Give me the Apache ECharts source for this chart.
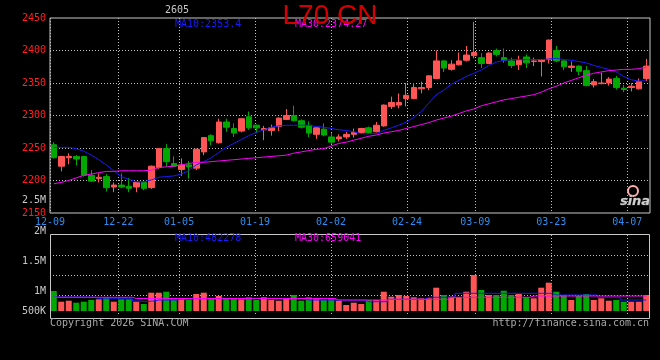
<!DOCTYPE html>
<html><head><meta charset="utf-8">
<script src="https://cdn.jsdelivr.net/npm/echarts@6/dist/echarts.min.js"></script>
<style>html,body{margin:0;padding:0;background:#000}#c{width:660px;height:360px}</style>
</head><body><div id="c"></div>
<script>
// ---------------- DATA ----------------
const contractTitle = 'L70 CN';
const contractCode = '2605';
const dates = ['12-09','12-10','12-11','12-12','12-15','12-16','12-17','12-18','12-19','12-22',
 '12-23','12-24','12-25','12-26','12-29','12-30','12-31','01-05','01-06','01-07',
 '01-08','01-09','01-12','01-13','01-14','01-15','01-16','01-19','01-20','01-21',
 '01-22','01-23','01-26','01-27','01-28','01-29','01-30','02-02','02-03','02-04',
 '02-05','02-06','02-09','02-10','02-11','02-12','02-13','02-24','02-25','02-26',
 '02-27','03-02','03-03','03-04','03-05','03-06','03-09','03-10','03-11','03-12',
 '03-13','03-16','03-17','03-18','03-19','03-20','03-23','03-24','03-25','03-26',
 '03-27','03-30','03-31','04-01','04-02','04-03','04-07','04-08','04-09','04-10'];
const xTickDates = ['12-09','12-22','01-05','01-19','02-02','02-24','03-09','03-23','04-07'];
const opens  = [2255,2222,2235,2237,2237,2208,2203,2206,2190,2193,2191,2190,2197,2189,2220,2249,2226,2217,2224,2219,
 2244,2269,2258,2290,2280,2276,2298,2285,2278,2277,2283,2294,2300,2292,2285,2271,2279,2267,2264,2267,
 2271,2274,2281,2275,2284,2314,2316,2326,2326,2341,2343,2357,2384,2371,2378,2385,2392,2389,2380,2400,
 2389,2384,2378,2390,2383,2383,2386,2400,2384,2374,2376,2369,2347,2349,2350,2357,2342,2343,2341,2357];
const closes = [2235,2237,2237,2233,2208,2199,2205,2189,2193,2190,2188,2197,2188,2222,2249,2229,2222,2224,2221,2248,
 2266,2261,2290,2282,2273,2295,2281,2281,2280,2281,2296,2300,2292,2282,2273,2281,2270,2259,2267,2271,
 2274,2280,2274,2285,2316,2320,2320,2331,2343,2343,2361,2384,2373,2379,2384,2393,2397,2380,2396,2394,
 2385,2377,2385,2381,2384,2386,2416,2384,2375,2376,2368,2346,2352,2350,2356,2343,2340,2345,2352,2376];
const highs  = [2259,2238,2242,2239,2238,2216,2211,2210,2197,2211,2204,2198,2198,2223,2250,2256,2237,2234,2230,2249,
 2267,2271,2295,2295,2288,2296,2306,2286,2284,2286,2297,2310,2315,2294,2291,2282,2288,2273,2271,2275,
 2280,2281,2283,2290,2317,2329,2334,2350,2350,2352,2362,2400,2385,2385,2397,2407,2444,2396,2397,2403,
 2403,2389,2392,2394,2389,2387,2417,2407,2385,2383,2377,2376,2356,2366,2359,2361,2347,2350,2357,2387];
const lows   = [2234,2214,2225,2223,2206,2198,2197,2183,2182,2188,2182,2182,2185,2187,2218,2221,2221,2207,2203,2216,
 2239,2254,2257,2275,2267,2274,2278,2273,2262,2269,2276,2293,2291,2280,2267,2264,2268,2256,2260,2264,
 2266,2272,2272,2274,2283,2310,2311,2314,2325,2334,2339,2356,2367,2369,2377,2383,2388,2373,2379,2391,
 2381,2373,2370,2373,2376,2360,2380,2382,2370,2367,2362,2345,2343,2348,2346,2340,2336,2337,2340,2353];
const ma10 = [2251,2251,2251,2249,2245,2239,2232,2224,2215,2206,2202,2198,2198,2201,2205,2206,2207,2210,2215,2224,
 2229,2235,2243,2251,2257,2263,2269,2274,2278,2282,2284,2285,2285,2285,2285,2283,2282,2280,2278,2277,
 2275,2272,2272,2272,2277,2281,2285,2290,2297,2306,2319,2332,2339,2348,2354,2360,2365,2370,2377,2382,
 2385,2386,2386,2386,2386,2386,2387,2388,2386,2385,2383,2381,2377,2374,2371,2367,2360,2355,2353,2353.4];
const ma30 = [2195,2197,2200,2204,2208,2210,2212,2214,2214,2215,2215,2215,2215,2216,2220,2221,2222,2224,2226,2228,
 2228,2229,2230,2231,2232,2233,2234,2235,2236,2237,2238,2239,2242,2244,2246,2248,2249,2253,2257,2259,
 2262,2265,2268,2270,2273,2275,2277,2280,2283,2286,2289,2293,2296,2299,2303,2307,2310,2315,2318,2321,
 2324,2326,2328,2330,2332,2336,2341,2345,2350,2354,2358,2362,2365,2367,2369,2370,2371,2371,2372,2374.27];
const volumes = [880000,409000,453000,365000,409000,484000,515000,603000,409000,515000,
 515000,409000,308000,805000,805000,849000,515000,515000,515000,748000,
 805000,559000,660000,559000,559000,515000,603000,484000,603000,484000,
 453000,559000,704000,453000,603000,559000,484000,559000,453000,264000,
 365000,308000,484000,484000,849000,629000,704000,660000,603000,559000,
 559000,1025000,704000,629000,603000,849000,1584000,924000,704000,704000,
 893000,704000,748000,603000,559000,1025000,1245000,849000,704000,484000,
 660000,748000,484000,559000,453000,484000,409000,409000,409000,704000];
const volMa10 = [616000,616000,616000,616000,616000,610000,541000,541000,541000,541000,
 541000,440000,409000,440000,484000,484000,484000,541000,541000,541000,
 541000,541000,541000,541000,541000,541000,541000,541000,541000,541000,
 541000,541000,541000,541000,484000,484000,484000,484000,484000,484000,
 484000,484000,409000,409000,409000,515000,515000,515000,515000,515000,
 603000,603000,603000,603000,779000,779000,779000,779000,779000,779000,
 779000,779000,779000,779000,779000,779000,779000,704000,704000,704000,
 704000,704000,704000,603000,603000,603000,484000,484000,484000,482278];
const volMa30 = [603000,603000,603000,603000,603000,603000,603000,603000,603000,603000,
 603000,550000,550000,550000,550000,550000,550000,550000,550000,550000,
 550000,550000,550000,550000,550000,550000,550000,550000,550000,550000,
 550000,550000,550000,550000,550000,550000,550000,550000,484000,484000,
 484000,484000,484000,484000,484000,515000,515000,515000,515000,515000,
 515000,515000,515000,603000,603000,603000,603000,603000,603000,603000,
 603000,603000,603000,603000,659000,659000,659000,659000,659000,659000,
 659000,659000,659000,659000,659000,659000,659000,659000,659000,659041];
const priceMin = 2150, priceMax = 2450, priceStep = 50;
const volTickLabels = ['2M','1.5M','1M','500K'];
const strayVolLabel = '2.5M';
const ma10Last = '2353.4', ma30Last = '2374.27';
const volMa10Last = '482278', volMa30Last = '659041';
const copyrightText = 'Copyright 2026 SINA.COM';
const urlText = 'http://finance.sina.com.cn';

// ---------------- STYLE / LAYOUT ----------------
const UP = '#ff5555', DOWN = '#00a800';
const MONO = 'DejaVu Sans Mono';
const gridLine = {color:'#c0c0c0', type:[1,2], width:1};
const tickIdx = new Set(xTickDates.map(d => dates.indexOf(d)));
const tickFn = (i) => tickIdx.has(i);
const volTickY = [231, 261, 291, 311];
const VOL_PX = 44000; // volume units per pixel in the lower panel

const candleData = opens.map((o, i) => [o, closes[i], lows[i], highs[i]]);
const volData = volumes.map((v, i) => ({value: v, itemStyle: {color: closes[i] >= opens[i] ? UP : DOWN}}));

function txt(text, x, y, color, opts) {
  opts = opts || {};
  return {type:'text', x:x, y:y, z:100, silent:true,
    style:{text:text, fill:color, fontFamily: opts.family || MONO, fontSize: opts.size || 10,
      fontStyle: opts.style || 'normal', fontWeight: opts.weight || 'normal',
      align: opts.align || 'left', verticalAlign:'middle',
      stroke: opts.stroke, lineWidth: opts.lw || 0}};
}

const graphics = [
  txt(contractCode, 177, 10, '#c8c8c8', {align:'center'}),
  txt('MA10:' + ma10Last, 175, 24, '#1a1aff'),
  txt('MA30:' + ma30Last, 295, 24, '#ff00ff'),
  txt('MA10:' + volMa10Last, 175, 238, '#1a1aff'),
  txt('MA30:' + volMa30Last, 295, 238, '#ff00ff'),
  txt(strayVolLabel, 46, 200, '#c8c8c8', {align:'right'}),
  txt(copyrightText, 50, 323, '#a8a8a8'),
  txt(urlText, 649, 323, '#a8a8a8', {align:'right'}),
  {type:'rect', z:50, silent:true, shape:{x:50.5, y:234.5, width:599, height:84},
    style:{fill:'none', stroke:'#c8c8c8', lineWidth:1}},
  {type:'circle', z:100, silent:true, shape:{cx:633, cy:191, r:5},
    style:{fill:'none', stroke:'#ffb0b0', lineWidth:2}},
  txt('sina', 635, 202, '#d0d0d0', {align:'center', size:13, style:'italic', weight:'bold', family:'DejaVu Sans', stroke:'#666', lw:0.5}),
  {type:'text', x:330, y:16, z:120, silent:true,
    style:{text:contractTitle, fill:'#d40000', fontFamily:'Liberation Sans', fontSize:28,
      align:'center', verticalAlign:'middle'}}
];
volTickLabels.forEach((t, k) => graphics.push(txt(t, 46, volTickY[k], '#c8c8c8', {align:'right'})));

const chart = echarts.init(document.getElementById('c'), null, {renderer:'canvas'});
chart.setOption({
  backgroundColor:'#000',
  animation:false,
  grid:[
    {left:50, top:18, width:600, height:195, show:true, borderColor:'#c8c8c8', borderWidth:1, backgroundColor:'transparent'},
    {left:50, top:235, width:600, height:80}
  ],
  xAxis:[
    {type:'category', gridIndex:0, data:dates, boundaryGap:true, show:false, position:'bottom'},
    {type:'category', gridIndex:0, data:dates, boundaryGap:false, position:'bottom',
      axisLine:{show:false}, axisTick:{show:false, interval:tickFn},
      axisLabel:{interval:tickFn, color:'#2b8ef0', fontFamily:MONO, fontSize:10, margin:4},
      splitLine:{show:true, interval:tickFn, lineStyle:gridLine}},
    {type:'category', gridIndex:1, data:dates, boundaryGap:true, show:false, position:'bottom'},
    {type:'category', gridIndex:1, data:dates, boundaryGap:false, position:'bottom',
      axisLine:{show:false}, axisTick:{show:false, interval:tickFn}, axisLabel:{show:false, interval:tickFn},
      splitLine:{show:true, interval:tickFn, lineStyle:gridLine}}
  ],
  yAxis:[
    {type:'value', gridIndex:0, min:priceMin, max:priceMax, interval:priceStep, position:'left',
      axisLine:{show:false}, axisTick:{show:false},
      axisLabel:{color:'#ff2020', fontFamily:MONO, fontSize:10, margin:4, formatter:(v) => String(v)},
      splitLine:{show:true, showMinLine:false, showMaxLine:false, lineStyle:gridLine}},
    {type:'value', gridIndex:1, min:-4*VOL_PX, max:76*VOL_PX, show:false, splitLine:{show:false}},
    {type:'value', gridIndex:1, min:0, max:80, interval:20, position:'left',
      axisLine:{show:false}, axisTick:{show:false}, axisLabel:{show:false},
      splitLine:{show:true, showMinLine:false, showMaxLine:false, lineStyle:gridLine}}
  ],
  series:[
    {type:'candlestick', xAxisIndex:0, yAxisIndex:0, data:candleData, barWidth:6,
      itemStyle:{color:UP, color0:DOWN, borderColor:UP, borderColor0:DOWN, borderWidth:1}},
    {type:'line', xAxisIndex:0, yAxisIndex:0, data:ma10, showSymbol:false, symbol:'none',
      lineStyle:{color:'#1a1aff', width:1}, z:5},
    {type:'line', xAxisIndex:0, yAxisIndex:0, data:ma30, showSymbol:false, symbol:'none',
      lineStyle:{color:'#ff00ff', width:1}, z:5},
    {type:'bar', xAxisIndex:2, yAxisIndex:1, data:volData, barWidth:6},
    {type:'line', xAxisIndex:2, yAxisIndex:1, data:volMa10, showSymbol:false, symbol:'none',
      step:'middle', lineStyle:{color:'#1a1aff', width:1}, z:5},
    {type:'line', xAxisIndex:2, yAxisIndex:1, data:volMa30, showSymbol:false, symbol:'none',
      step:'middle', lineStyle:{color:'#ff00ff', width:1}, z:5}
  ],
  graphic:graphics
});
</script></body></html>
